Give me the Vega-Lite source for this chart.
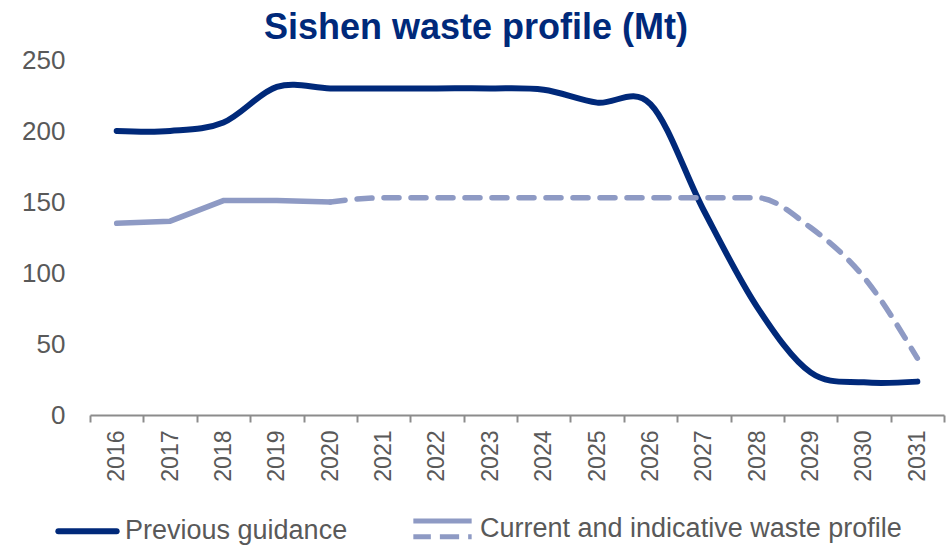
{
  "$schema": "https://vega.github.io/schema/vega-lite/v6.json",
  "width": 854,
  "height": 355,
  "autosize": {"type": "none"},
  "padding": {"left": 90, "top": 60, "right": 5, "bottom": 131},
  "background": "white",
  "config": {"view": {"stroke": null}, "font": "Liberation Sans"},
  "title": {"text": "Sishen waste profile (Mt)", "fontSize": 36, "fontWeight": "bold", "color": "#00297A", "anchor": "middle", "dx": -41, "offset": 0, "font": "Liberation Sans"},
  "data": {"values": [
    {"year": 2016, "value": 200, "series": "Previous guidance", "segment": "previous"},
    {"year": 2017, "value": 200, "series": "Previous guidance", "segment": "previous"},
    {"year": 2018, "value": 206, "series": "Previous guidance", "segment": "previous"},
    {"year": 2019, "value": 231, "series": "Previous guidance", "segment": "previous"},
    {"year": 2020, "value": 230, "series": "Previous guidance", "segment": "previous"},
    {"year": 2021, "value": 230, "series": "Previous guidance", "segment": "previous"},
    {"year": 2022, "value": 230, "series": "Previous guidance", "segment": "previous"},
    {"year": 2023, "value": 230, "series": "Previous guidance", "segment": "previous"},
    {"year": 2024, "value": 229, "series": "Previous guidance", "segment": "previous"},
    {"year": 2025, "value": 220, "series": "Previous guidance", "segment": "previous"},
    {"year": 2026, "value": 219, "series": "Previous guidance", "segment": "previous"},
    {"year": 2027, "value": 144, "series": "Previous guidance", "segment": "previous"},
    {"year": 2028, "value": 76, "series": "Previous guidance", "segment": "previous"},
    {"year": 2029, "value": 30, "series": "Previous guidance", "segment": "previous"},
    {"year": 2030, "value": 23, "series": "Previous guidance", "segment": "previous"},
    {"year": 2031, "value": 23.5, "series": "Previous guidance", "segment": "previous"},
    {"year": 2016, "value": 135, "series": "Current and indicative waste profile", "segment": "current"},
    {"year": 2017, "value": 136.5, "series": "Current and indicative waste profile", "segment": "current"},
    {"year": 2018, "value": 151, "series": "Current and indicative waste profile", "segment": "current"},
    {"year": 2019, "value": 151, "series": "Current and indicative waste profile", "segment": "current"},
    {"year": 2020, "value": 150, "series": "Current and indicative waste profile", "segment": "current"},
    {"year": 2020, "value": 150, "series": "Current and indicative waste profile", "segment": "indicative"},
    {"year": 2021, "value": 153, "series": "Current and indicative waste profile", "segment": "indicative"},
    {"year": 2022, "value": 153, "series": "Current and indicative waste profile", "segment": "indicative"},
    {"year": 2023, "value": 153, "series": "Current and indicative waste profile", "segment": "indicative"},
    {"year": 2024, "value": 153, "series": "Current and indicative waste profile", "segment": "indicative"},
    {"year": 2025, "value": 153, "series": "Current and indicative waste profile", "segment": "indicative"},
    {"year": 2026, "value": 153, "series": "Current and indicative waste profile", "segment": "indicative"},
    {"year": 2027, "value": 153, "series": "Current and indicative waste profile", "segment": "indicative"},
    {"year": 2028, "value": 153, "series": "Current and indicative waste profile", "segment": "indicative"},
    {"year": 2029, "value": 132, "series": "Current and indicative waste profile", "segment": "indicative"},
    {"year": 2030, "value": 97, "series": "Current and indicative waste profile", "segment": "indicative"},
    {"year": 2031, "value": 40, "series": "Current and indicative waste profile", "segment": "indicative"}
  ]},
  "encoding": {
    "x": {
      "field": "year", "type": "ordinal",
      "scale": {"type": "band", "paddingInner": 0, "paddingOuter": 0},
      "axis": {"title": null, "labelAngle": -90, "labelAlign": "right", "labelBaseline": "middle", "labelFontSize": 23, "labelColor": "#595959", "labelPadding": 8, "tickBand": "extent", "tickSize": 7, "tickWidth": 2, "tickColor": "#8c8c8c", "domainColor": "#8c8c8c", "domainWidth": 2, "grid": false}
    },
    "y": {
      "field": "value", "type": "quantitative",
      "scale": {"domain": [0, 250], "nice": false},
      "axis": {"title": null, "values": [0, 50, 100, 150, 200, 250], "grid": false, "domain": false, "ticks": false, "labelFontSize": 26, "labelColor": "#595959", "labelPadding": 25}
    },
    "color": {
      "field": "series", "type": "nominal",
      "scale": {"domain": ["Previous guidance", "Current and indicative waste profile"], "range": ["#00297A", "#8E9AC4"]},
      "legend": {
        "title": null, "orient": "none", "legendX": -16, "legendY": 455, "direction": "horizontal",
        "labelFontSize": 27, "labelColor": "#595959", "labelFont": "Liberation Sans", "labelLimit": 700,
        "symbolSize": 3400, "symbolStrokeWidth": 6, "labelOffset": 24, "columnPadding": 55, "padding": 0,
        "encode": {"symbols": {"update": {
          "shape": {"signal": "datum.value === 'Previous guidance' ? 'stroke' : 'M-1,-0.26H1M-1,0.28H-0.4M-0.09,0.28H0.57M0.88,0.28H1'"},
          "strokeCap": {"signal": "datum.value === 'Previous guidance' ? 'round' : 'butt'"},
          "strokeWidth": {"signal": "datum.value === 'Previous guidance' ? 6 : 5"}
        }}}
      }
    }
  },
  "layer": [
    {"transform": [{"filter": "datum.segment === 'previous'"}], "mark": {"type": "line", "interpolate": "cardinal", "strokeWidth": 6, "strokeCap": "round"}},
    {"transform": [{"filter": "datum.segment === 'current'"}], "mark": {"type": "line", "strokeWidth": 5.5, "strokeCap": "round"}},
    {"transform": [{"filter": "datum.segment === 'indicative'"}], "mark": {"type": "line", "interpolate": "monotone", "strokeWidth": 5.5, "strokeCap": "round", "strokeDash": [15, 12]}}
  ]
}
